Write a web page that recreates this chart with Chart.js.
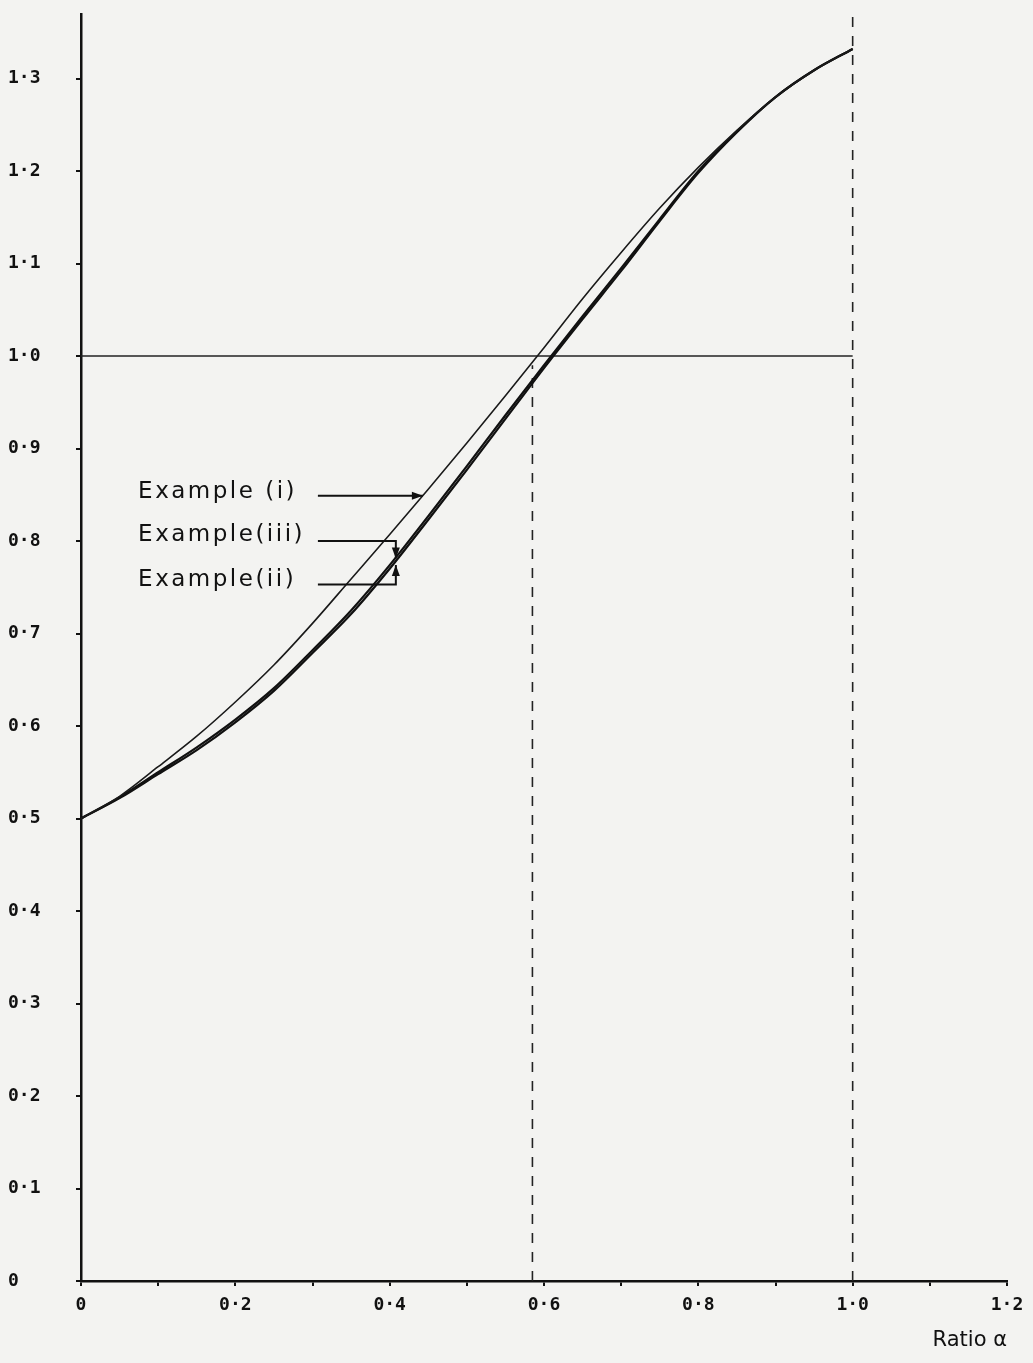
<!DOCTYPE html>
<html>
<head>
<meta charset="utf-8">
<script src="https://cdn.jsdelivr.net/npm/chart.js@4/dist/chart.umd.min.js"></script>
<style>
  html, body { margin: 0; padding: 0; background: #f3f3f1; }
  #wrap { width: 1033px; height: 1363px; }
</style>
</head>
<body>
<div id="wrap"><canvas id="myChart" width="1033" height="1363"></canvas></div>
<script>
// ratio alpha along the x axis
const ratio = [0, 0.05, 0.1, 0.15, 0.2, 0.25, 0.3, 0.35, 0.4, 0.45, 0.5,
               0.55, 0.6, 0.65, 0.7, 0.75, 0.8, 0.85, 0.9, 0.95, 1.0];

// values
const example1 = [0.5, 0.524, 0.556, 0.589, 0.626, 0.666, 0.711, 0.759, 0.807, 0.856, 0.906,
                  0.957, 1.009, 1.062, 1.112, 1.160, 1.204, 1.244, 1.280, 1.309, 1.332];
const example2 = [0.5, 0.522, 0.548, 0.574, 0.604, 0.638, 0.679, 0.721, 0.770, 0.823, 0.877,
                  0.932, 0.987, 1.040, 1.092, 1.146, 1.198, 1.242, 1.280, 1.309, 1.332];
const example3 = [0.5, 0.523, 0.550, 0.577, 0.607, 0.641, 0.682, 0.725, 0.774, 0.827, 0.881,
                  0.936, 0.990, 1.043, 1.095, 1.148, 1.200, 1.243, 1.280, 1.309, 1.332];

const unityLevel = 1.0;
const crossingRatio = 0.585;
const limitRatio = 1.0;
const yTop = 1.37;

const xTickValues = [0, 0.1, 0.2, 0.3, 0.4, 0.5, 0.6, 0.7, 0.8, 0.9, 1.0, 1.1, 1.2];
const xTickLabels = ['0', '', '0·2', '', '0·4', '', '0·6', '', '0·8', '', '1·0', '', '1·2'];
const yTickValues = [0, 0.1, 0.2, 0.3, 0.4, 0.5, 0.6, 0.7, 0.8, 0.9, 1.0, 1.1, 1.2, 1.3];
const yTickLabels = ['0', '0·1', '0·2', '0·3', '0·4', '0·5', '0·6', '0·7', '0·8', '0·9',
                     '1·0', '1·1', '1·2', '1·3'];

// hand lettered labels with their leader arrows, in data units
const notes = [
    { text: 'Example (i)',  x: 0.074, y: 0.853, path: [[0.307, 0.849], [0.443, 0.849]] },
    { text: 'Example(iii)', x: 0.074, y: 0.806, path: [[0.307, 0.800], [0.408, 0.800], [0.408, 0.781]] },
    { text: 'Example(ii)',  x: 0.074, y: 0.758, path: [[0.307, 0.753], [0.408, 0.753], [0.408, 0.774]] }
];

function pts(ys) {
    return ratio.map((a, i) => ({ x: a, y: ys[i] }));
}

const paper = {
    id: 'paper',
    beforeDraw(chart) {
        const ctx = chart.ctx;
        ctx.save();
        ctx.fillStyle = '#f3f3f1';
        ctx.fillRect(0, 0, chart.width, chart.height);
        ctx.restore();
    }
};

const labels = {
    id: 'labels',
    afterDatasetsDraw(chart) {
        const ctx = chart.ctx;
        const xs = chart.scales.x;
        const ys = chart.scales.y;
        ctx.save();
        ctx.fillStyle = '#111';
        ctx.strokeStyle = '#111';
        ctx.lineWidth = 2;
        ctx.font = '23px "DejaVu Sans"';
        ctx.letterSpacing = '2.5px';
        ctx.textBaseline = 'middle';
        for (const n of notes) {
            ctx.fillText(n.text, xs.getPixelForValue(n.x), ys.getPixelForValue(n.y));
            const p = n.path.map(q => [xs.getPixelForValue(q[0]), ys.getPixelForValue(q[1])]);
            ctx.beginPath();
            ctx.moveTo(p[0][0], p[0][1]);
            for (let i = 1; i < p.length; i++) ctx.lineTo(p[i][0], p[i][1]);
            ctx.stroke();
            const [x1, y1] = p[p.length - 2];
            const [x2, y2] = p[p.length - 1];
            const ang = Math.atan2(y2 - y1, x2 - x1);
            ctx.beginPath();
            ctx.moveTo(x2, y2);
            ctx.lineTo(x2 - 11 * Math.cos(ang) + 4 * Math.sin(ang), y2 - 11 * Math.sin(ang) - 4 * Math.cos(ang));
            ctx.lineTo(x2 - 11 * Math.cos(ang) - 4 * Math.sin(ang), y2 - 11 * Math.sin(ang) + 4 * Math.cos(ang));
            ctx.closePath();
            ctx.fill();
        }
        ctx.restore();
    }
};

const tickFont = { family: '"DejaVu Sans Mono"', size: 18, weight: 'bold' };

const config = {
    type: 'line',
    data: {
        datasets: [
            {
                label: 'Example (i)',
                data: pts(example1),
                borderColor: '#1a1a1a',
                borderWidth: 1.6,
                cubicInterpolationMode: 'monotone',
                pointRadius: 0
            },
            {
                label: 'Example (ii)',
                data: pts(example2),
                borderColor: '#111',
                borderWidth: 2.2,
                cubicInterpolationMode: 'monotone',
                pointRadius: 0
            },
            {
                label: 'Example (iii)',
                data: pts(example3),
                borderColor: '#111',
                borderWidth: 2.2,
                cubicInterpolationMode: 'monotone',
                pointRadius: 0
            },
            {
                label: 'unity',
                data: [{ x: 0, y: unityLevel }, { x: limitRatio, y: unityLevel }],
                borderColor: '#222',
                borderWidth: 1.6,
                pointRadius: 0
            },
            {
                label: 'crossing',
                data: [{ x: crossingRatio, y: 0 }, { x: crossingRatio, y: unityLevel - 0.01 }],
                borderColor: '#222',
                borderWidth: 1.6,
                borderDash: [10, 9],
                pointRadius: 0
            },
            {
                label: 'limit',
                data: [{ x: limitRatio, y: 0 }, { x: limitRatio, y: yTop }],
                borderColor: '#222',
                borderWidth: 1.6,
                borderDash: [10, 9],
                pointRadius: 0
            }
        ]
    },
    options: {
        responsive: false,
        animation: false,
        layout: { padding: { left: 8, top: 8, right: 26, bottom: 0 } },
        plugins: {
            legend: { display: false },
            tooltip: { enabled: false }
        },
        scales: {
            x: {
                type: 'linear',
                min: 0,
                max: 1.2,
                afterFit(scale) { scale.height = 82; },
                afterBuildTicks(scale) { scale.ticks = xTickValues.map(v => ({ value: v })); },
                border: { color: '#111', width: 2.5 },
                grid: { drawOnChartArea: false, color: '#111', tickLength: 5, lineWidth: 2 },
                ticks: {
                    autoSkip: false,
                    maxRotation: 0,
                    padding: 9,
                    color: '#111',
                    font: tickFont,
                    callback: (v, i) => xTickLabels[i]
                },
                title: {
                    display: true,
                    text: 'Ratio α',
                    align: 'end',
                    color: '#111',
                    font: { family: '"DejaVu Sans"', size: 21 },
                    padding: { top: 0, bottom: 10 }
                }
            },
            y: {
                type: 'linear',
                min: 0,
                max: yTop,
                afterFit(scale) { scale.width = 73; },
                afterBuildTicks(scale) { scale.ticks = yTickValues.map(v => ({ value: v })); },
                border: { color: '#111', width: 2.5 },
                grid: { drawOnChartArea: false, color: '#111', tickLength: 5, lineWidth: 2 },
                ticks: {
                    autoSkip: false,
                    crossAlign: 'far',
                    color: '#111',
                    font: tickFont,
                    callback: (v, i) => yTickLabels[i]
                }
            }
        }
    },
    plugins: [paper, labels]
};

const myChart = new Chart(document.getElementById('myChart'), config);
</script>
</body>
</html>
